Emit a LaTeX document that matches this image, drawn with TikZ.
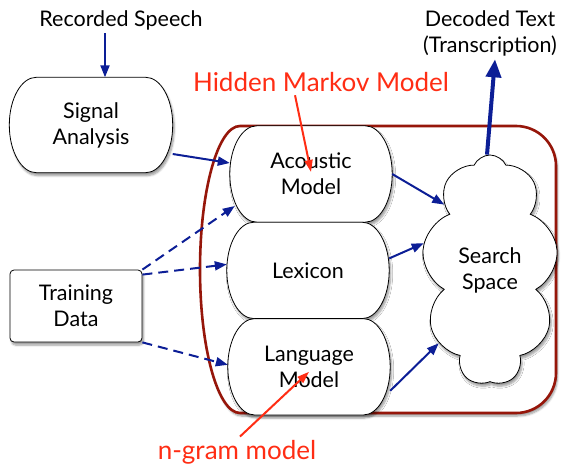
\documentclass[tikz,border=0pt]{standalone}
\usepackage{fontspec}
\setmainfont{Lato}
\usepackage{tikz}
\usetikzlibrary{arrows.meta, backgrounds, calc, positioning, shapes.symbols, shadows.blur}

\definecolor{flowblue}{RGB}{12,30,150}
\definecolor{notered}{RGB}{255,45,20}
\definecolor{hullred}{RGB}{150,22,10}

% boxes with bulging left and right sides
\newcommand\capbulge{27pt}
\newcommand\capsule[1]{%
  \path[capsuleline] let \p1=(#1.north west), \p2=(#1.south east), \n1={0.5*(\y1-\y2)} in
    (\x1+\capbulge,\y1) -- (\x2-\capbulge,\y1)
    arc[start angle=90, end angle=-90, x radius=\capbulge, y radius=\n1]
    -- (\x1+\capbulge,\y2)
    arc[start angle=270, end angle=90, x radius=\capbulge, y radius=\n1] -- cycle;}

\tikzset{
  every node/.style={font=\fontsize{21.5}{26}\selectfont, align=center},
  softshadow/.style={blur shadow={shadow xshift=1.5pt, shadow yshift=-3pt, shadow blur steps=6}},
  stage/.style={minimum width=163pt, minimum height=95pt},
  model/.style={minimum width=162pt, minimum height=96pt},
  capsuleline/.style={draw=black, line width=0.8pt, fill=white, softshadow},
  hull/.style={draw=hullred, line width=2.6pt, fill=white, softshadow},
  flow/.style={draw=flowblue, line width=2pt, -{Triangle[length=12pt,width=9pt]}},
  trainline/.style={flow, dash pattern=on 10pt off 6pt},
  note/.style={text=notered, font=\fontsize{26}{30}\selectfont},
  notearrow/.style={draw=notered, line width=2pt, -{Triangle[length=12pt,width=8pt]}}
}

\begin{document}
\begin{tikzpicture}[x=1pt, y=1pt]
\useasboundingbox (0,0) rectangle (561,467);

\node (recorded) at (121,447) {Recorded Speech};
\node[stage] (signal) at (91,342) {Signal\\Analysis};
\node[model] (acoustic) at (311,293) {Acoustic\\Model};
\node[model, below=0pt of acoustic, xshift=-3pt] (lexicon) {Lexicon};
\node[model, below=0pt of lexicon, xshift=1pt] (language) {Language\\Model};
\node[draw, rounded corners=4pt, line width=0.8pt, fill=white, softshadow,
      minimum width=132pt, minimum height=72pt] (training) at (76,161) {Training\\Data};
\node[cloud, cloud puffs=9, cloud puff arc=130, cloud ignores aspect, draw, line width=0.8pt,
      fill=white, softshadow, minimum width=136pt, minimum height=230pt] (space) at (490,197) {Search\\Space};
\node (decoded) at (490,434) {Decoded Text\\(Transcription)};
\node[note] (hmm) at (321,385) {Hidden Markov Model};
\node[note] (ngram) at (237,15) {n-gram model};

\begin{pgfonlayer}{background}
  \path[hull] (240,54) arc[start angle=270, end angle=90, x radius=40pt, y radius=143.5pt]
    [rounded corners=40pt] -- (556,341) -- (556,54) -- (240,54);
  \foreach \shp in {signal, acoustic, lexicon, language} {\capsule{\shp}}
\end{pgfonlayer}

\draw[flow] ([xshift=-16pt]recorded.south) -- ([xshift=14pt]signal.north);
\draw[flow] ([yshift=-29pt]signal.east) -- ([yshift=11pt]acoustic.west);
\draw[flow] (acoustic.east) -- (space.125);
\draw[flow] ([yshift=12pt]lexicon.east) -- (space.158);
\draw[flow] ([yshift=-24pt]language.east) -- (space.235);
\draw[flow, line width=4pt, -{Triangle[length=18pt,width=15pt]}]
  ([xshift=-3pt]space.north) -- ([xshift=5pt]decoded.south);
%
\draw[trainline] (training.north east) -- ([xshift=5pt,yshift=-32pt]acoustic.west);
\draw[trainline] ([yshift=-5pt]training.north east) -- ([yshift=6pt]lexicon.west);
\draw[trainline] (training.south east) -- ([yshift=2pt]language.west);
%
\draw[notearrow] ([xshift=-26pt]hmm.south) -- ([yshift=2pt]acoustic.center);
\draw[notearrow] ([xshift=3pt]ngram.north) -- ([yshift=-5pt]language.center);
\end{tikzpicture}
\end{document}
